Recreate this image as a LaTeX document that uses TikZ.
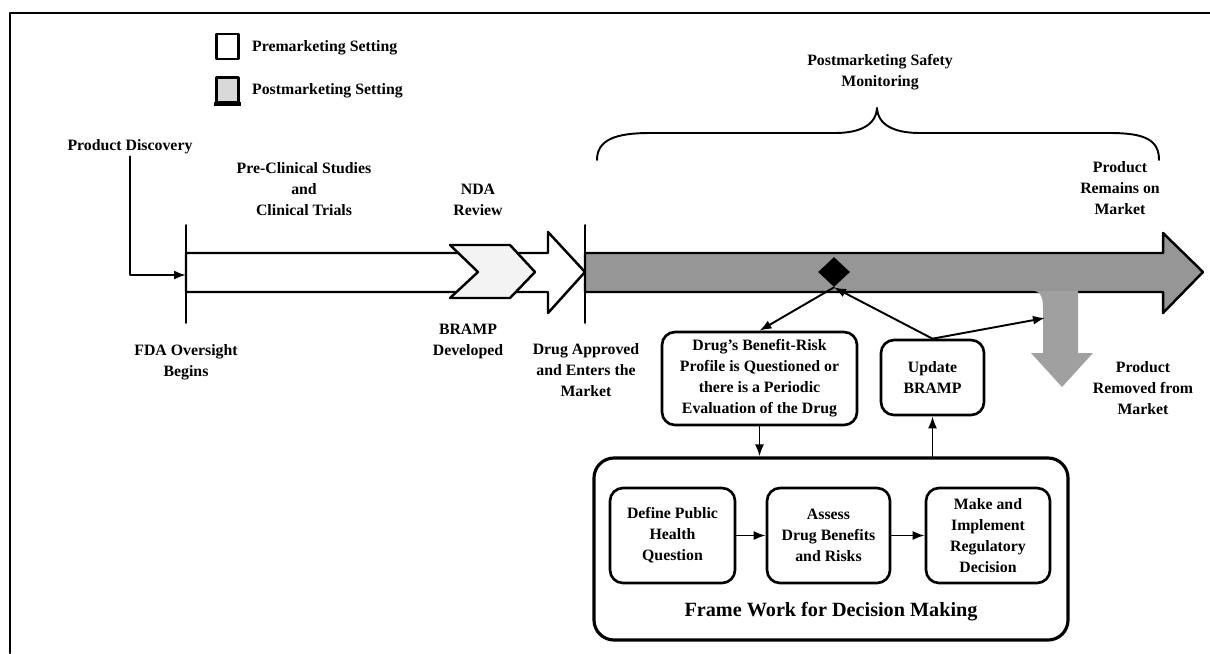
\documentclass[tikz,border=0pt]{standalone}
\usepackage{fontspec}
\setmainfont{Liberation Serif}
\usetikzlibrary{shapes.geometric,arrows.meta}
\definecolor{postgray}{RGB}{150,150,150}
\definecolor{bandgray}{RGB}{160,160,160}
\definecolor{leggray}{RGB}{217,217,217}
\definecolor{ndagray}{RGB}{243,243,243}
\begin{document}
\begin{tikzpicture}[x=0.2mm,y=-0.2mm,line join=round,line cap=round,>={Latex[length=2.4mm,width=1.8mm]},font=\fontsize{9}{12}\selectfont\bfseries]
	\tikzset{every node/.style={align=center,inner sep=1pt},
		rbox/.style={draw,line width=1.5pt,rounded corners=2.6mm,inner sep=0pt},
		legbox/.style={draw,line width=1.4pt,inner sep=0pt,minimum width=4.4mm,minimum height=5mm},
		con/.style={->,line width=1.1pt}}
	\useasboundingbox (0,0) rectangle (1210,653);
	\draw[line width=1.4pt] (10,653)--(10,13)--(1210,13);
	% legend
	\node[legbox,fill=white] (pre) at (227.5,46.5) {};
	\node[legbox,fill=leggray] (post) at (227.5,90) {};
	\draw[line width=2.2pt,line cap=butt] ([xshift=-0.7pt]post.south west)--([xshift=0.7pt]post.south east);
	\node[anchor=west] (pretxt) at (250,48) {Premarketing Setting};
	\node[anchor=west] (posttxt) at (250,91) {Postmarketing Setting};
	% tick ends
	\foreach \x/\y/\n in {186/225/fdatop,186/323/fdabot,186/275/fdain,585/225/aptop,585/323/apbot,1045/318/rem}
		\coordinate (\n) at (\x,\y);
	% premarketing arrow
	\draw[line width=1.4pt,fill=white] (186,253)--(548,253)--(548,232)--(585,272)--(548,313)--(548,292)--(186,292)--cycle;
	\draw[line width=1.4pt,fill=ndagray] (450,245)--(510,245)--(535,272)--(510,298)--(450,298)--(478,272)--cycle;
	% postmarketing arrow
	\draw[line width=1.4pt,fill=postgray] (585,253)--(1163,253)--(1163,233)--(1203,272)--(1163,313)--(1163,292)--(585,292)--cycle;
	\fill[bandgray] (1030,290.3) .. controls (1043,290.3) and (1043,300) .. (1043,312) -- (1043,353) -- (1031,353) -- (1062,387) -- (1093,353) -- (1078,353) -- (1078,290.3) -- cycle;
	\draw[line width=1.1pt] (fdatop)--(fdabot) (aptop)--(apbot);
	% brace
	\draw[line width=1.1pt] (597,160) .. controls (597,140) and (615,133) .. (650,133) -- (835,133) .. controls (860,133) and (876,125) .. (877,108) .. controls (878,125) and (894,133) .. (920,133) -- (1110,133) .. controls (1145,133) and (1159,140) .. (1159,160);
	% labels
	\node (disc) at (130,147) {Product Discovery};
	\node (pcs) at (304,189) {Pre-Clinical Studies\\and\\Clinical Trials};
	\node (nda) at (478,200) {NDA\\Review};
	\node (fdatxt) at (186,362) {FDA Oversight\\Begins};
	\node (bramp) at (468,341) {BRAMP\\Developed};
	\node (aptxt) at (586,370) {Drug Approved\\and Enters the\\Market};
	\node (pmsm) at (880,72) {Postmarketing Safety\\Monitoring};
	\node (remains) at (1120,188) {Product\\Remains on\\Market};
	\node (removed) at (1143,388) {Product\\Removed from\\Market};
	\draw[con] (disc.south) |- (fdain);
	% monitoring loop
	\node[diamond,fill=black,inner sep=0pt,minimum width=6.4mm,minimum height=6mm] (dia) at (834,272) {};
	\node[rbox,minimum width=39mm,minimum height=18.6mm] (drug) at (759.5,378.5) {Drug's Benefit-Risk\\Profile is Questioned or\\there is a Periodic\\Evaluation of the Drug};
	\node[rbox,minimum width=20.6mm,minimum height=15mm] (upd) at (932.5,377.5) {Update\\BRAMP};
	\node[rbox,line width=1.8pt,rounded corners=4mm,minimum width=94.8mm,minimum height=36.4mm] (frame) at (831,549) {};
	\node[rbox,minimum width=25mm,minimum height=19mm] (q) at (672.5,535.5) {Define Public\\Health\\Question};
	\node[rbox,minimum width=24.6mm,minimum height=19mm] (ab) at (828.5,535.5) {Assess\\Drug Benefits\\and Risks};
	\node[rbox,minimum width=24.8mm,minimum height=19mm] (dec) at (988,535.5) {Make and\\Implement\\Regulatory\\Decision};
	\node[font=\fontsize{11.5}{14}\selectfont\bfseries] (fw) at (831,612) {Frame Work for Decision Making};
	\draw[con] (dia.south) -- (drug.north);
	\draw[con] (upd.north) -- (dia.south);
	\draw[con] (upd.north) -- (rem);
	\draw[con] (drug.south) -- (drug.south |- frame.north);
	\draw[con] (upd.south |- frame.north) -- (upd.south);
	\draw[con] (q) -- (ab);
	\draw[con] (ab) -- (dec);
\end{tikzpicture}
\end{document}
